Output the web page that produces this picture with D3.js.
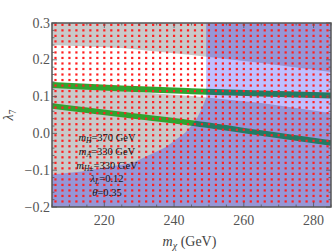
<!DOCTYPE html>
<html><head><meta charset="utf-8">
<script src="https://cdn.jsdelivr.net/npm/d3@7"></script>
<style>body{margin:0;background:#fff}svg{display:block}</style>
</head><body>
<svg id="c" width="332" height="251"></svg>
<script>
// ---- data ----
const xTicks = [220, 240, 260, 280];
const yTicks = [-0.2, -0.1, 0.0, 0.1, 0.2, 0.3];
const yTickLabels = ["\u22120.2", "\u22120.1", "0.0", "0.1", "0.2", "0.3"];
// white (allowed) band
const bandMx = [205, 225, 245, 265, 285];
const bandTop = [0.240, 0.232, 0.213, 0.191, 0.167];
const bandBottom = [0.126, 0.115, 0.1016, 0.0826, 0.0554];
// green relic-density bands
const greenMx = [205, 225, 245, 265, 285];
const greenUpper = [0.1315, 0.122, 0.1147, 0.1084, 0.103];
const greenLower = [0.0745, 0.0514, 0.0283, 0.001, -0.026];
// blue excluded region: vertical edge + lower-left curve
const blueEdgeMx = 249.2;
const blueCurveMx = [205, 213, 228.2, 237.7, 243.1, 244.9, 246.6, 248.0, 249.2];
const blueCurveLam = [-0.112, -0.104, -0.080, -0.037, 0.001, 0.020, 0.042, 0.069, 0.096];
// scan grid points
const mxGrid = [206,208,210,212,214,216,218,220,222,224,226,228,230,232,234,236,238,240,242,244,246,248,250,252,254,256,258,260,262,264,266,268,270,272,274,276,278,280,282,284];
const lamGrid = [-0.185,-0.17,-0.155,-0.14,-0.125,-0.11,-0.095,-0.08,-0.065,-0.05,-0.035,-0.02,-0.005,0.01,0.025,0.04,0.055,0.07,0.085,0.1,0.115,0.13,0.145,0.16,0.175,0.19,0.205,0.22,0.235,0.25,0.265,0.28,0.295];
// annotation lines
const notes = [
  {v: "m", s: "H", t: "=370 GeV"},
  {v: "m", s: "A", t: "=330 GeV"},
  {v: "m", s: "H\u00B1", t: "=330 GeV"},
  {v: "\u03BB", s: "L", t: "=0.12"},
  {v: "\u03B8", s: "", t: "=0.35"}
];

// ---- layout ----
const L = 52, T = 23, R = 331, B = 207;
const x = d3.scaleLinear().domain([205, 285]).range([L, R]);
const y = d3.scaleLinear().domain([-0.2, 0.3]).range([B, T]);
const svg = d3.select("#c");
const serif = "'Liberation Serif', 'DejaVu Serif', serif";

svg.append("defs").append("clipPath").attr("id", "clip")
  .append("rect").attr("x", L).attr("y", T).attr("width", R - L).attr("height", B - T);
const g = svg.append("g").attr("clip-path", "url(#clip)");

// gray background
g.append("rect").attr("x", L).attr("y", T).attr("width", R - L).attr("height", B - T).attr("fill", "#c9c9c9");

// white band
const bandPts = bandMx.map((m, i) => [x(m), y(bandTop[i])])
  .concat(bandMx.map((m, i) => [x(m), y(bandBottom[i])]).reverse());
g.append("path").attr("d", d3.line().curve(d3.curveLinearClosed)(bandPts)).attr("fill", "#ffffff");

// green bands
const gl = d3.line().curve(d3.curveMonotoneX);
g.append("path").attr("d", gl(greenMx.map((m, i) => [x(m), y(greenUpper[i])])))
  .attr("fill", "none").attr("stroke", "#2fa42f").attr("stroke-width", 6);
g.append("path").attr("d", gl(greenMx.map((m, i) => [x(m), y(greenLower[i])])))
  .attr("fill", "none").attr("stroke", "#2fa42f").attr("stroke-width", 5.5);

// blue layer (union as one path)
const curvePts = blueCurveMx.map((m, i) => [x(m), y(blueCurveLam[i])]);
const bluePts = [[x(205), y(-0.2)]].concat(curvePts)
  .concat([[x(blueEdgeMx), y(0.3)], [x(285), y(0.3)], [x(285), y(-0.2)]]);
g.append("path").attr("d", d3.line().curve(d3.curveLinearClosed)(bluePts))
  .attr("fill", "rgb(0,0,255)").attr("fill-opacity", 0.25);

// scan points
const pts = [];
lamGrid.forEach(l => mxGrid.forEach(m => pts.push([m, l])));
g.selectAll("rect.pt").data(pts).join("rect").attr("class", "pt")
  .attr("x", d => x(d[0]) - 1.1).attr("y", d => y(d[1]) - 1.1)
  .attr("width", 2.2).attr("height", 2.2).attr("fill", "#ff1f1f");

// frame + ticks
const frameCol = "#555";
const minorX = d3.range(205, 286, 5);
const minorY = d3.range(-0.2, 0.301, 0.02);
const tk = svg.append("g").attr("stroke", frameCol).attr("stroke-width", 0.8);
minorX.forEach(m => {
  const len = xTicks.includes(m) ? 5 : 2.5;
  tk.append("line").attr("x1", x(m)).attr("x2", x(m)).attr("y1", B).attr("y2", B - len);
  tk.append("line").attr("x1", x(m)).attr("x2", x(m)).attr("y1", T).attr("y2", T + len);
});
minorY.forEach(l => {
  const major = yTicks.some(t => Math.abs(t - l) < 1e-6);
  const len = major ? 5 : 2.5;
  tk.append("line").attr("y1", y(l)).attr("y2", y(l)).attr("x1", L).attr("x2", L + len);
  tk.append("line").attr("y1", y(l)).attr("y2", y(l)).attr("x1", R).attr("x2", R - len);
});
svg.append("rect").attr("x", L).attr("y", T).attr("width", R - L).attr("height", B - T)
  .attr("fill", "none").attr("stroke", frameCol).attr("stroke-width", 1.5);

// tick labels
svg.append("g").selectAll("text").data(xTicks).join("text")
  .attr("x", d => x(d)).attr("y", 225).attr("text-anchor", "middle")
  .attr("font-family", serif).attr("font-size", 14).attr("fill", "#555").text(d => d);
svg.append("g").selectAll("text").data(yTicks).join("text")
  .attr("x", 50).attr("y", d => y(d) + 4.5).attr("text-anchor", "end")
  .attr("font-family", serif).attr("font-size", 14).attr("fill", "#555")
  .text((d, i) => yTickLabels[i]);

// axis titles
const xt = svg.append("text").attr("x", (L + R) / 2 - 2).attr("y", 246).attr("text-anchor", "middle")
  .attr("font-family", serif).attr("font-size", 14).attr("fill", "#444");
xt.append("tspan").attr("font-style", "italic").text("m");
xt.append("tspan").attr("font-style", "italic").attr("font-size", 10).attr("dy", 3).text("\u03C7");
xt.append("tspan").attr("dy", -3).text(" (GeV)");

const yt = svg.append("text").attr("transform", `translate(13,${(T + B) / 2}) rotate(-90)`)
  .attr("text-anchor", "middle").attr("font-family", serif).attr("font-size", 14).attr("fill", "#444");
yt.append("tspan").attr("font-style", "italic").text("\u03BB");
yt.append("tspan").attr("font-size", 10).attr("dy", 3).text("7");

// annotations
const ann = svg.append("g").attr("font-family", serif).attr("font-size", 10.5).attr("fill", "#111");
notes.forEach((n, i) => {
  const t = ann.append("text").attr("x", 107).attr("y", 141 + i * 13.8).attr("text-anchor", "middle");
  t.append("tspan").attr("font-style", "italic").text(n.v);
  if (n.s) {
    t.append("tspan").attr("font-style", "italic").attr("font-size", 7.5).attr("dy", 2).text(n.s);
    t.append("tspan").attr("dy", -2).text(n.t);
  } else {
    t.append("tspan").text(n.t);
  }
});
</script>
</body></html>
